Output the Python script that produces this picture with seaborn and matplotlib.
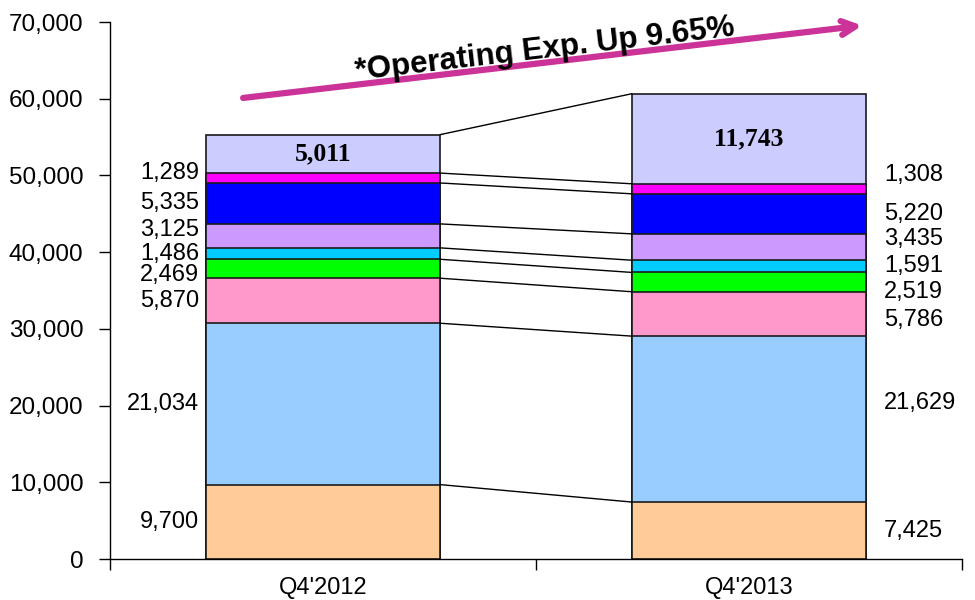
import numpy as np
import pandas as pd
import seaborn as sns
import matplotlib.pyplot as plt

# dados (de baixo para cima)
periodos = ["Q4'2012", "Q4'2013"]
valores_2012 = [9700, 21034, 5870, 2469, 1486, 3125, 5335, 1289, 5011]
valores_2013 = [7425, 21629, 5786, 2519, 1591, 3435, 5220, 1308, 11743]
cores = ["#FFCC99", "#99CCFF", "#FF99CC", "#00FF00", "#00CCFF",
         "#CC99FF", "#0000FF", "#FF00FF", "#CCCCFF"]
titulo = "*Operating Exp. Up 9.65%"

# pequenos ajustes verticais dos rotulos (em pixels)
ajuste_esq = [0, 0, 0, -6, 0, 6, 0, 5, 0]
ajuste_dir = [0, 16, -6, -10, 0, 8, 0, 14, 0]

sns.set_style("white")
plt.rcParams['font.family'] = ['Liberation Sans', 'DejaVu Sans']
for chave in ["text.color", "axes.labelcolor", "xtick.color", "ytick.color"]:
    plt.rcParams[chave] = "black"

fig = plt.figure(figsize=(9.75, 6), dpi=100)
ax = fig.add_axes([0.1128, 0.0683, 0.8739, 0.895])

v12 = np.array(valores_2012)
v13 = np.array(valores_2013)
cum12 = np.cumsum(v12)
cum13 = np.cumsum(v13)
largura = 0.55

# barras empilhadas: desenha do topo para a base
for i in range(len(cores) - 1, -1, -1):
    df = pd.DataFrame({"periodo": periodos, "total": [cum12[i], cum13[i]]})
    sns.barplot(data=df, x="periodo", y="total", color=cores[i], saturation=1,
                width=largura, edgecolor="#1a1a1a", linewidth=1.2, ax=ax)

# linhas de ligacao entre as barras
meia = largura / 2
for a, b in zip(cum12, cum13):
    ax.plot([0 + meia, 1 - meia], [a, b], color="black", lw=1, zorder=1)

# rotulos laterais
for i in range(len(cores) - 1):
    y1 = cum12[i] - v12[i] / 2
    y2 = cum13[i] - v13[i] / 2
    ax.annotate(f"{v12[i]:,}", xy=(0 - meia, y1), xytext=(-5, ajuste_esq[i] * 0.72),
                textcoords="offset points", ha="right", va="center", fontsize=17)
    ax.annotate(f"{v13[i]:,}", xy=(1 + meia, y2), xytext=(13, ajuste_dir[i] * 0.72),
                textcoords="offset points", ha="left", va="center", fontsize=17)

# rotulo do topo (negrito, serif)
ax.text(0, cum12[-1] - v12[-1] / 2, f"{v12[-1]:,}", ha="center", va="center",
        fontsize=18.5, fontweight="bold", family="Liberation Serif")
ax.text(1, cum13[-1] - v13[-1] / 2, f"{v13[-1]:,}", ha="center", va="center",
        fontsize=18.5, fontweight="bold", family="Liberation Serif")

# seta e titulo
ax.annotate("", xy=(0.886, 0.994), xytext=(0.153, 0.858), xycoords="axes fraction",
            arrowprops=dict(arrowstyle="->,head_length=1.0,head_width=0.5",
                            lw=4.5, color="#CC3399"), annotation_clip=False)
ax.text(0.51, 0.948, titulo, transform=ax.transAxes, ha="center", va="center",
        rotation=6.7, fontsize=22.5, fontweight="bold", clip_on=False)

# eixos
ax.set_ylim(0, 70000)
ax.set_xlim(-0.5, 1.5)
ax.set_yticks(range(0, 70001, 10000))
ax.yaxis.set_major_formatter(plt.FuncFormatter(lambda v, p: f"{int(v):,}"))
ax.set_xticks([-0.5, 0.5, 1.5], minor=True)
ax.tick_params(axis="x", which="major", length=0, labelsize=17, pad=13)
ax.tick_params(axis="x", which="minor", length=8, width=1, direction="out")
ax.tick_params(axis="y", length=8, width=1, direction="out", labelsize=17.5, pad=11)
ax.tick_params(bottom=True, left=True, which="both")
ax.set_xlabel("")
ax.set_ylabel("")
for lado in ["top", "right"]:
    ax.spines[lado].set_visible(False)
for lado in ["left", "bottom"]:
    ax.spines[lado].set_color("black")
    ax.spines[lado].set_linewidth(1)

fig.savefig("out.png", dpi=100)
